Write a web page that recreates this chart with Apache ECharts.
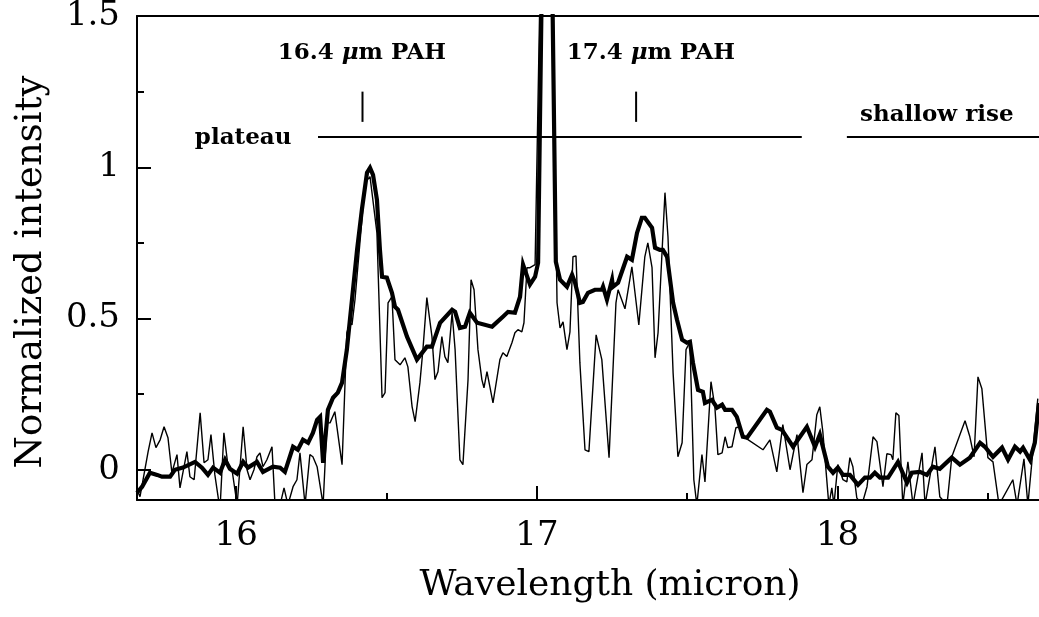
<!DOCTYPE html>
<html>
<head>
<meta charset="utf-8">
<script src="https://cdn.jsdelivr.net/npm/echarts@6/dist/echarts.min.js"></script>
<style>
html,body{margin:0;padding:0;background:#fff;}
#chart{width:1039px;height:617px;}
</style>
</head>
<body>
<div id="chart"></div>
<script>
// ---- data (wavelength in micron, normalized intensity) ----
const smoothed = [[15.670,-0.076],[15.687,-0.056],[15.713,-0.010],[15.737,-0.017],[15.753,-0.023],[15.780,-0.023],[15.796,0.000],[15.823,0.007],[15.863,0.026],[15.886,0.007],[15.906,-0.017],[15.923,0.007],[15.946,-0.010],[15.963,0.033],[15.979,0.003],[16.003,-0.013],[16.023,0.026],[16.039,0.007],[16.069,0.026],[16.089,-0.007],[16.122,0.010],[16.146,0.007],[16.162,-0.007],[16.189,0.076],[16.205,0.066],[16.222,0.099],[16.239,0.089],[16.255,0.122],[16.269,0.165],[16.279,0.175],[16.289,0.023],[16.305,0.198],[16.322,0.238],[16.338,0.255],[16.352,0.288],[16.368,0.397],[16.385,0.562],[16.402,0.727],[16.418,0.860],[16.435,0.982],[16.445,0.998],[16.455,0.975],[16.468,0.893],[16.478,0.727],[16.485,0.638],[16.501,0.635],[16.505,0.638],[16.518,0.585],[16.528,0.539],[16.538,0.529],[16.568,0.440],[16.601,0.364],[16.634,0.407],[16.651,0.407],[16.678,0.486],[16.718,0.529],[16.728,0.522],[16.744,0.469],[16.761,0.473],[16.777,0.519],[16.801,0.486],[16.851,0.473],[16.887,0.506],[16.904,0.522],[16.927,0.519],[16.944,0.572],[16.954,0.678],[16.977,0.612],[16.994,0.638],[17.004,0.684],[17.034,2.939],[17.063,0.688],[17.077,0.628],[17.100,0.605],[17.117,0.645],[17.127,0.618],[17.143,0.552],[17.153,0.555],[17.170,0.585],[17.193,0.595],[17.216,0.595],[17.220,0.605],[17.233,0.562],[17.250,0.628],[17.253,0.605],[17.270,0.618],[17.300,0.704],[17.316,0.694],[17.333,0.783],[17.349,0.833],[17.359,0.833],[17.383,0.800],[17.393,0.734],[17.409,0.727],[17.419,0.727],[17.433,0.704],[17.453,0.552],[17.466,0.496],[17.483,0.430],[17.499,0.420],[17.509,0.423],[17.519,0.354],[17.536,0.264],[17.552,0.258],[17.559,0.221],[17.582,0.231],[17.599,0.205],[17.616,0.215],[17.626,0.198],[17.649,0.198],[17.665,0.175],[17.685,0.109],[17.699,0.106],[17.765,0.198],[17.775,0.192],[17.798,0.139],[17.815,0.132],[17.852,0.076],[17.898,0.142],[17.925,0.076],[17.941,0.116],[17.968,0.010],[17.985,-0.010],[18.001,0.007],[18.018,-0.017],[18.041,-0.017],[18.068,-0.050],[18.091,-0.026],[18.108,-0.026],[18.124,-0.010],[18.141,-0.026],[18.168,-0.026],[18.201,0.026],[18.231,-0.043],[18.247,-0.010],[18.274,-0.007],[18.297,-0.017],[18.317,0.010],[18.340,0.003],[18.380,0.040],[18.407,0.017],[18.440,0.040],[18.474,0.089],[18.490,0.076],[18.517,0.043],[18.547,0.073],[18.567,0.033],[18.590,0.076],[18.607,0.060],[18.617,0.073],[18.640,0.033],[18.656,0.089],[18.670,0.221]];

const raw = [[15.670,-0.066],[15.680,-0.089],[15.707,0.060],[15.720,0.122],[15.733,0.073],[15.747,0.099],[15.760,0.142],[15.773,0.106],[15.786,-0.010],[15.803,0.050],[15.813,-0.060],[15.836,0.060],[15.846,-0.023],[15.860,-0.033],[15.880,0.188],[15.893,0.023],[15.906,0.033],[15.916,0.116],[15.929,-0.017],[15.946,-0.132],[15.959,0.122],[15.973,0.010],[15.986,0.000],[16.003,-0.116],[16.023,0.142],[16.036,0.000],[16.046,-0.033],[16.059,0.000],[16.069,0.043],[16.079,0.056],[16.089,0.010],[16.102,0.033],[16.119,0.076],[16.129,-0.116],[16.146,-0.116],[16.159,-0.060],[16.172,-0.116],[16.189,-0.056],[16.202,-0.033],[16.212,0.056],[16.229,-0.116],[16.245,0.050],[16.255,0.043],[16.269,0.010],[16.289,-0.116],[16.302,0.155],[16.312,0.155],[16.328,0.192],[16.352,0.017],[16.368,0.453],[16.378,0.486],[16.385,0.479],[16.395,0.562],[16.418,0.826],[16.428,0.949],[16.445,0.969],[16.468,0.783],[16.485,0.238],[16.495,0.255],[16.505,0.552],[16.518,0.572],[16.528,0.364],[16.545,0.347],[16.561,0.370],[16.571,0.340],[16.585,0.208],[16.595,0.159],[16.611,0.288],[16.621,0.397],[16.634,0.569],[16.651,0.440],[16.661,0.298],[16.671,0.324],[16.684,0.440],[16.694,0.374],[16.704,0.354],[16.718,0.519],[16.728,0.397],[16.744,0.033],[16.754,0.017],[16.771,0.298],[16.781,0.628],[16.791,0.595],[16.804,0.397],[16.817,0.298],[16.824,0.271],[16.834,0.324],[16.854,0.221],[16.877,0.364],[16.887,0.387],[16.900,0.374],[16.917,0.420],[16.927,0.453],[16.937,0.463],[16.950,0.456],[16.957,0.486],[16.967,0.668],[16.977,0.668],[16.994,0.678],[17.034,2.900],[17.067,0.552],[17.077,0.469],[17.087,0.489],[17.100,0.397],[17.110,0.456],[17.120,0.704],[17.130,0.707],[17.143,0.354],[17.160,0.066],[17.173,0.060],[17.197,0.446],[17.216,0.364],[17.240,0.040],[17.263,0.552],[17.270,0.595],[17.293,0.532],[17.316,0.671],[17.333,0.529],[17.339,0.479],[17.359,0.704],[17.369,0.750],[17.383,0.668],[17.393,0.370],[17.403,0.453],[17.426,0.916],[17.436,0.770],[17.453,0.321],[17.469,0.043],[17.483,0.089],[17.496,0.397],[17.509,0.423],[17.522,-0.033],[17.532,-0.116],[17.549,0.050],[17.559,-0.040],[17.579,0.291],[17.592,0.208],[17.602,0.050],[17.616,0.056],[17.626,0.109],[17.635,0.073],[17.649,0.076],[17.662,0.139],[17.675,0.142],[17.692,0.106],[17.752,0.066],[17.775,0.099],[17.798,-0.007],[17.818,0.149],[17.842,0.000],[17.865,0.116],[17.885,-0.076],[17.898,0.017],[17.915,0.033],[17.931,0.182],[17.941,0.208],[17.951,0.126],[17.971,-0.116],[17.981,-0.060],[17.988,-0.116],[18.001,0.017],[18.018,-0.033],[18.031,-0.040],[18.041,0.040],[18.051,0.010],[18.064,-0.093],[18.081,-0.116],[18.098,-0.056],[18.118,0.109],[18.131,0.093],[18.151,-0.056],[18.164,0.053],[18.178,0.050],[18.184,0.033],[18.194,0.188],[18.204,0.179],[18.217,-0.116],[18.234,0.026],[18.251,-0.116],[18.281,0.056],[18.291,-0.116],[18.324,0.076],[18.340,-0.089],[18.364,-0.116],[18.380,0.043],[18.424,0.162],[18.440,0.109],[18.454,0.043],[18.467,0.307],[18.480,0.268],[18.500,0.040],[18.517,0.026],[18.537,-0.116],[18.583,-0.033],[18.597,-0.116],[18.620,0.036],[18.633,-0.116],[18.666,0.235]];

// ---- axis ticks ----
const xMajorTicks = [16, 17, 18];
const xMinorTicks = [16.5, 17.5, 18.5];
const yMajorTicks = [0, 0.5, 1, 1.5];
const yMinorTicks = [0.25, 0.75, 1.25];

// ---- annotations (data coordinates) ----
const featureMarks = [16.42, 17.33];          // short vertical markers
const featureMarkRange = [1.15, 1.25];
const plateauRange = [16.272, 17.881];
const shallowRiseRange = [18.031, 18.67];
const bandLevel = 1.1;
const annotationLabels = [
  {text: '16.4 {mu|μ}m PAH', x: 16.418, y: 1.379},
  {text: '17.4 {mu|μ}m PAH', x: 17.379, y: 1.379},
  {text: 'plateau', x: 16.023, y: 1.098},
  {text: 'shallow rise', x: 18.330, y: 1.174}
];

const serif = '"DejaVu Serif", "Liberation Serif", serif';
const chart = echarts.init(document.getElementById('chart'), null, {renderer: 'canvas'});

const series = [
  {
    type: 'line', data: raw, showSymbol: false, symbol: 'none', clip: true,
    lineStyle: {color: '#000', width: 1.4, opacity: 1}, z: 2
  },
  {
    type: 'line', data: smoothed, showSymbol: false, symbol: 'none', clip: true,
    lineStyle: {color: '#000', width: 4.2, opacity: 1, join: 'miter'}, z: 3
  },
  {
    type: 'line', data: [[plateauRange[0], bandLevel], [plateauRange[1], bandLevel]],
    showSymbol: false, symbol: 'none', lineStyle: {color: '#000', width: 2}
  },
  {
    type: 'line', data: [[shallowRiseRange[0], bandLevel], [shallowRiseRange[1], bandLevel]],
    showSymbol: false, symbol: 'none', lineStyle: {color: '#000', width: 2}
  }
];
featureMarks.forEach(function (m) {
  series.push({
    type: 'line', data: [[m, featureMarkRange[0]], [m, featureMarkRange[1]]],
    showSymbol: false, symbol: 'none', lineStyle: {color: '#000', width: 2}
  });
});
series.push({
  type: 'scatter', symbolSize: 0,
  itemStyle: {opacity: 1, color: '#000'},
  data: annotationLabels.map(function (a) { return {value: [a.x, a.y], name: a.text}; }),
  label: {
    show: true, position: 'inside', align: 'center', verticalAlign: 'middle', opacity: 1,
    formatter: function (p) { return p.name; },
    fontFamily: serif, fontSize: 23, fontWeight: 'bold', color: '#000',
    textBorderWidth: 0,
    rich: {mu: {fontFamily: serif, fontSize: 23, fontWeight: 'bold', fontStyle: 'italic', color: '#000'}}
  },
  emphasis: {disabled: true},
  z: 5
});

const tickLabelStyle = {fontFamily: serif, fontSize: 34, color: '#000'};

chart.setOption({
  animation: false,
  backgroundColor: '#fff',
  grid: {left: 137, right: 0, top: 16, bottom: 117, containLabel: false, outerBoundsMode: 'none'},
  xAxis: [
    {
      type: 'value', min: 15.67, max: 18.67, position: 'bottom',
      axisLine: {show: true, onZero: false, lineStyle: {color: '#000', width: 2}},
      axisTick: {show: true, inside: true, length: 14, customValues: xMajorTicks, lineStyle: {color: '#000', width: 2}},
      axisLabel: Object.assign({customValues: xMajorTicks, margin: 19}, tickLabelStyle),
      splitLine: {show: false}
    },
    {
      type: 'value', min: 15.67, max: 18.67, position: 'bottom',
      axisLine: {show: false, onZero: false},
      axisTick: {show: true, inside: true, length: 7, customValues: xMinorTicks, lineStyle: {color: '#000', width: 2}},
      axisLabel: {show: false}, splitLine: {show: false}
    },
    {
      type: 'value', min: 15.67, max: 18.67, position: 'top',
      axisLine: {show: true, onZero: false, lineStyle: {color: '#000', width: 2}},
      axisTick: {show: false}, axisLabel: {show: false}, splitLine: {show: false}
    }
  ],
  yAxis: [
    {
      type: 'value', min: -0.1, max: 1.5, position: 'left',
      axisLine: {show: true, onZero: false, lineStyle: {color: '#000', width: 2}},
      axisTick: {show: true, inside: true, length: 14, customValues: yMajorTicks, lineStyle: {color: '#000', width: 2}},
      axisLabel: Object.assign({customValues: yMajorTicks, margin: 17}, tickLabelStyle),
      splitLine: {show: false}
    },
    {
      type: 'value', min: -0.1, max: 1.5, position: 'left',
      axisLine: {show: false, onZero: false},
      axisTick: {show: true, inside: true, length: 7, customValues: yMinorTicks, lineStyle: {color: '#000', width: 2}},
      axisLabel: {show: false}, splitLine: {show: false}
    }
  ],
  graphic: [
    {
      type: 'text', x: 610, y: 586,
      style: {text: 'Wavelength (micron)', font: '36px ' + serif, fill: '#000', textAlign: 'center', textVerticalAlign: 'middle'}
    },
    {
      type: 'text', x: 31, y: 272, rotation: Math.PI / 2,
      style: {text: 'Normalized intensity', font: '37px ' + serif, fill: '#000', textAlign: 'center', textVerticalAlign: 'middle'}
    }
  ],
  series: series
});
</script>
</body>
</html>
